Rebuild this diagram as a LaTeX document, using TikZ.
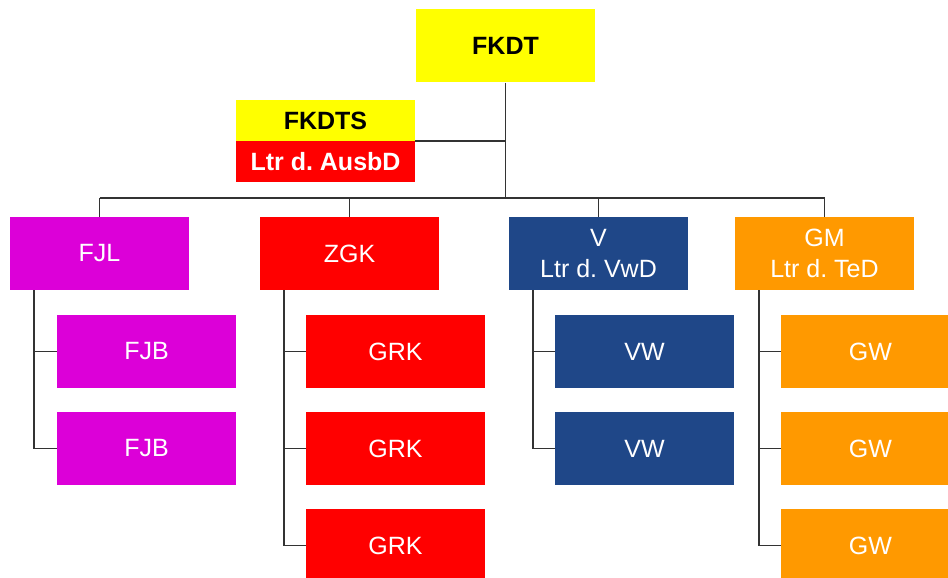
\documentclass[tikz,border=0pt]{standalone}
\usepackage{fontspec}
\setmainfont{Liberation Sans}
\frenchspacing
\definecolor{fkyellow}{RGB}{255,255,0}
\definecolor{fkred}{RGB}{255,0,0}
\definecolor{fkmagenta}{RGB}{220,0,216}
\definecolor{fkblue}{RGB}{31,71,136}
\definecolor{fkorange}{RGB}{255,153,0}
\definecolor{linegray}{RGB}{51,51,51}

\begin{document}
\begin{tikzpicture}[x=1pt,y=-1pt,
	box/.style={minimum width=179pt,minimum height=73pt,inner sep=0pt,text=white,align=center,font=\fontsize{25}{31}\selectfont},
	half/.style={minimum width=179pt,minimum height=41pt,inner sep=0pt,font=\bfseries\fontsize{25}{31}\selectfont},
	link/.style={draw=linegray,line width=1.6pt}]
	\useasboundingbox (0,0) rectangle (948,578);
	% top
	\node[box,fill=fkyellow,text=black,font=\bfseries\fontsize{25}{31}\selectfont] (fkdt) at (505.5,46) {FKDT};
	\node[half,fill=fkyellow,text=black] (fkdts) at (325.5,120.5) {FKDTS};
	\node[half,fill=fkred,text=white] (ausbd) at (325.5,161.5) {Ltr d. AusbD};
	\coordinate (bus) at (505.5,198);
	% second row
	\node[box,fill=fkmagenta] (fjl) at (99.5,253.5) {FJL};
	\node[box,fill=fkred] (zgk) at (349.5,253.5) {ZGK};
	\node[box,fill=fkblue] (v) at (598.5,253.5) {V\\Ltr d. VwD};
	\node[box,fill=fkorange] (gm) at (824.5,253.5) {GM\\Ltr d. TeD};
	% third row
	\foreach \i/\y in {1/351.5,2/448.5}
		\node[box,fill=fkmagenta] (fjb\i) at (146.5,\y) {FJB};
	\foreach \i/\y in {1/351.5,2/448.5,3/545.5}
		\node[box,fill=fkred] (grk\i) at (395.5,\y) {GRK};
	\foreach \i/\y in {1/351.5,2/448.5}
		\node[box,fill=fkblue] (vw\i) at (644.5,\y) {VW};
	\foreach \i/\y in {1/351.5,2/448.5,3/545.5}
		\node[box,fill=fkorange] (gw\i) at (870.5,\y) {GW};
	% lines
	\draw[link] (fkdt.south) -- (bus);
	\draw[link] (ausbd.north east) -- (ausbd.north east -| bus);
	\draw[link] (fjl.north |- bus) -- (gm.north |- bus);
	\foreach \c in {fjl,zgk,v,gm}
		\draw[link] (\c.north) -- (\c.north |- bus);
	\draw[link] ([xshift=24pt]fjl.south west) |- (fjb2.west);
	\draw[link] ([xshift=24pt]zgk.south west) |- (grk3.west);
	\draw[link] ([xshift=24pt]v.south west) |- (vw2.west);
	\draw[link] ([xshift=24pt]gm.south west) |- (gw3.west);
	\draw[link] (fjb1.west) -- ++(-22.5,0);
	\foreach \i in {1,2}
		\draw[link] (grk\i.west) -- ++(-22,0);
	\draw[link] (vw1.west) -- ++(-22,0);
	\foreach \i in {1,2}
		\draw[link] (gw\i.west) -- ++(-22,0);
\end{tikzpicture}
\end{document}
